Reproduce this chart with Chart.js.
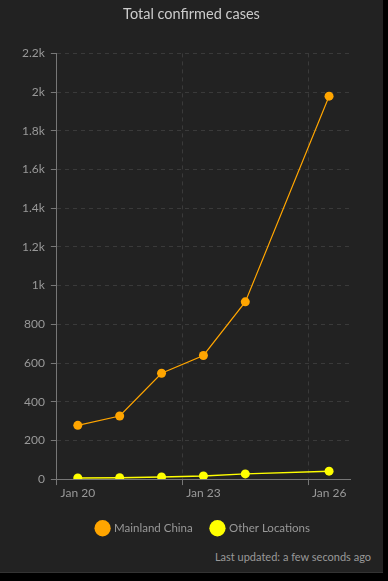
<!DOCTYPE html>
<html lang="en">
<head>
    <meta charset="UTF-8">
    <title>Total confirmed cases</title>
    <script src="https://cdn.jsdelivr.net/npm/chart.js"></script>
    <style>
        body {
            margin: 0;
            background-color: #000;
            font-family: Lato, sans-serif;
        }
        .panel {
            position: relative;
            width: 383px;
            height: 572px;
            background-color: #222;
            border-bottom: 1px solid #333;
        }
        .updated {
            position: absolute;
            right: 12px;
            top: 550px;
            font-size: 11px;
            color: #999;
        }
    </style>
</head>
<body>
    <div class="panel">
        <canvas id="cases-chart" width="383" height="542"></canvas>
        <div class="updated">Last updated: a few seconds ago</div>
    </div>

    <script>
        // Data
        const days = [20, 21, 22, 23, 24, 26];          // day of January
        const mainlandChina = [278, 326, 547, 639, 916, 1979];
        const otherLocations = [6, 7, 11, 16, 27, 41];
        const tickDays = [19.5, 22.5, 25.5];            // grid line positions
        const tickLabels = ['Jan 20', 'Jan 23', 'Jan 26'];

        const axisColor = '#777';
        const gridColor = '#3a3a3a';
        const textColor = '#999';

        function toPoints(values) {
            return days.map((d, i) => ({ x: d, y: values[i] }));
        }

        // center the title on the canvas and the legend under the plot
        const recenter = {
            id: 'recenter',
            afterLayout(chart) {
                chart.titleBlock.left = 0;
                chart.titleBlock.right = chart.width;
                chart.legend.left = chart.chartArea.left;
                chart.legend.right = chart.chartArea.right;
                chart.legend.top += 2;
                chart.legend.bottom += 2;
            }
        };

        const chart = new Chart(
            document.getElementById('cases-chart'),
            {
                type: 'line',
                data: {
                    datasets: [
                        {
                            label: 'Mainland China',
                            data: toPoints(mainlandChina),
                            borderColor: '#FFA500',
                            backgroundColor: '#FFA500',
                            borderWidth: 1.2,
                            pointRadius: 4.5,
                            pointBorderWidth: 0
                        },
                        {
                            label: 'Other Locations',
                            data: toPoints(otherLocations),
                            borderColor: '#FFFF00',
                            backgroundColor: '#FFFF00',
                            borderWidth: 1.5,
                            pointRadius: 4.5,
                            pointBorderWidth: 0
                        }
                    ]
                },
                options: {
                    responsive: false,
                    animation: false,
                    layout: {
                        padding: { left: 16, right: 33, top: 0, bottom: 0 }
                    },
                    plugins: {
                        title: {
                            display: true,
                            text: 'Total confirmed cases',
                            color: '#ccc',
                            font: { family: 'Lato', size: 14.5, weight: 'normal' },
                            padding: { top: 6, bottom: 30 }
                        },
                        legend: {
                            position: 'bottom',
                            labels: {
                                usePointStyle: true,
                                pointStyle: 'circle',
                                boxWidth: 12,
                                boxHeight: 12,
                                color: textColor,
                                padding: 19,
                                font: { family: 'Lato', size: 11.5 }
                            }
                        },
                        tooltip: { enabled: false }
                    },
                    scales: {
                        x: {
                            type: 'linear',
                            min: 19.5,
                            max: 26.5,
                            afterBuildTicks: axis => {
                                axis.ticks = tickDays.map(v => ({ value: v }));
                            },
                            ticks: {
                                color: textColor,
                                font: { family: 'Lato', size: 12 },
                                labelOffset: 21,
                                padding: 1,
                                callback: (v, i) => tickLabels[i]
                            },
                            grid: {
                                color: gridColor,
                                tickColor: axisColor,
                                tickLength: 6,
                                tickBorderDash: []
                            },
                            border: { color: axisColor, dash: [4, 4] }
                        },
                        y: {
                            min: 0,
                            max: 2200,
                            ticks: {
                                stepSize: 200,
                                color: textColor,
                                font: { family: 'Lato', size: 12 },
                                padding: 6,
                                callback: v => v >= 1000 ? (v / 1000) + 'k' : v
                            },
                            grid: {
                                color: gridColor,
                                tickColor: axisColor,
                                tickLength: 6,
                                tickBorderDash: []
                            },
                            border: { color: axisColor, dash: [4, 4] }
                        }
                    }
                },
                plugins: [recenter]
            }
        );
    </script>
</body>
</html>
